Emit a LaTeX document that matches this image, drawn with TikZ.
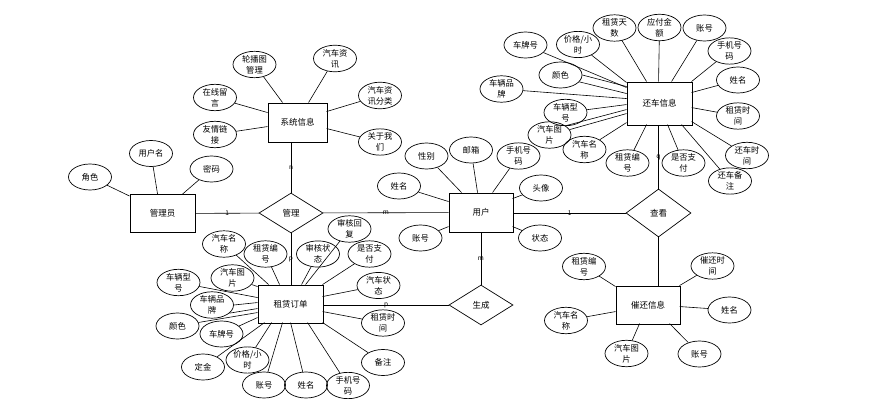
\documentclass[tikz,border=0pt]{standalone}
\usepackage{fontspec}
\setmainfont{Noto Sans CJK SC}
\usetikzlibrary{shapes.geometric,calc}

% link from an attribute (or one of its anchors) to a point on an entity's border,
% given as an offset from the entity's top-left corner
\newcommand\attrlink[4]{\draw[link] (#1) -- ($(#2.north west)+(#3,#4)$);}

\begin{document}
\begin{tikzpicture}[x=1pt,y=-1pt,
  ent/.style={draw, line width=0.9pt, minimum width=65pt, minimum height=38pt,
    inner sep=0pt, font=\fontsize{8.5}{10}\selectfont},
  rel/.style={draw, diamond, line width=0.7pt, minimum width=64pt, minimum height=40pt,
    inner sep=0pt, font=\fontsize{8.5}{10}\selectfont},
  attr/.style={draw, ellipse, line width=0.7pt, minimum width=43pt, minimum height=26pt,
    inner sep=0pt, align=center, font=\fontsize{8.3}{11}\selectfont},
  link/.style={line width=0.6pt},
  card/.style={font=\fontsize{6.5}{7}\selectfont, inner sep=0.5pt}]
\useasboundingbox (0,0) rectangle (870,412);

% entities
\node[ent] (admin) at (162.5,213.5) {管理员};
\node[ent, minimum width=59pt, minimum height=39pt] (sys) at (297.5,122.5) {系统信息};
\node[ent, minimum width=64pt, minimum height=39pt] (user) at (481,212.5) {用户};
\node[ent] (order) at (290.5,304) {租赁订单};
\node[ent, minimum height=43pt] (back) at (659.5,103.5) {还车信息};
\node[ent, minimum width=64pt] (urge) at (648,305) {催还信息};

% relationships
\node[rel] (manage) at (291,213) {管理};
\node[rel] (gen) at (481,305) {生成};
\node[rel, minimum width=65pt, minimum height=48pt] (view) at (658.5,213) {查看};

\draw[link] (admin) -- node[card]{1} (manage);
\draw[link] (manage) -- node[card]{m} (user);
\draw[link] (manage.north) -- node[card]{n} (manage.north |- sys.south);
\draw[link] (manage.south) -- node[card]{p} (manage.south |- order.north);
\draw[link] (user) -- node[card]{m} (gen);
\draw[link] (gen.west -| order.east) -- node[card]{p} (gen.west);
\draw[link] (user.east |- view.west) -- node[card]{1} (view.west);
\draw[link] (view.north) -- node[card]{q} (view.north |- back.south);
\draw[link] (view.south) -- (view.south |- urge.north);

% administrator
\node[attr] (a1) at (90,177) {角色};
\node[attr] (a2) at (151,153.5) {用户名};
\node[attr] (a3) at (211.5,169) {密码};
\attrlink{a1}{admin}{0}{2}
\attrlink{a2}{admin}{28}{0}
\attrlink{a3}{admin}{53}{0}

% system information
\node[attr] (s1) at (254.5,64.5) {轮播图\\管理};
\node[attr] (s2) at (335,58.5) {汽车资\\讯};
\node[attr] (s3) at (215,97.5) {在线留\\言};
\node[attr] (s4) at (215,134.5) {友情链\\接};
\node[attr] (s5) at (380,95.5) {汽车资\\讯分类};
\node[attr] (s6) at (380,142) {关于我\\们};
\attrlink{s1}{sys}{15}{0}
\attrlink{s2}{sys}{41}{0}
\attrlink{s3}{sys}{0}{10}
\attrlink{s4}{sys}{0}{24}
\attrlink{s5}{sys}{59}{9}
\attrlink{s6}{sys}{59}{26}

% user
\node[attr] (u1) at (426.5,156) {性别};
\node[attr] (u2) at (471,150) {邮箱};
\node[attr] (u3) at (518.5,156) {手机号\\码};
\node[attr] (u4) at (399,186) {姓名};
\node[attr] (u5) at (541,188) {头像};
\node[attr] (u6) at (420.5,238) {账号};
\node[attr] (u7) at (540,238) {状态};
\attrlink{u1}{user}{13}{0}
\attrlink{u2}{user}{29}{0}
\attrlink{u3}{user}{44}{0}
\attrlink{u4}{user}{0}{9}
\attrlink{u5}{user}{64}{6}
\attrlink{u6}{user}{0}{34}
\attrlink{u7}{user}{64}{34}

% rental order
\node[attr] (o1) at (224,244) {汽车名\\称};
\node[attr] (o2) at (265.5,254) {租赁编\\号};
\node[attr] (o3) at (318,254) {审核状\\态};
\node[attr] (o4) at (349.5,229) {审核回\\复};
\node[attr] (o5) at (369.5,254) {是否支\\付};
\node[attr] (o6) at (232.5,278) {汽车图\\片};
\node[attr] (o7) at (178.5,282.5) {车辆型\\号};
\node[attr] (o8) at (212,305) {车辆品\\牌};
\node[attr] (o9) at (177.5,326) {颜色};
\node[attr] (o10) at (221.5,334) {车牌号};
\node[attr] (o11) at (378.5,285.5) {汽车状\\态};
\node[attr] (o12) at (383,323) {租赁时\\间};
\node[attr] (o13) at (203,367) {定金};
\node[attr] (o14) at (247.5,360) {价格/小\\时};
\node[attr] (o15) at (264,385) {账号};
\node[attr] (o16) at (306,385) {姓名};
\node[attr] (o17) at (348,385.5) {手机号\\码};
\node[attr] (o18) at (383,362.5) {备注};
\attrlink{o1}{order}{11}{0}
\attrlink{o2}{order}{22}{0}
\attrlink{o3}{order}{44}{0}
\attrlink{o4}{order}{48}{0}
\attrlink{o5}{order}{65}{0}
\attrlink{o6}{order}{0}{2}
\attrlink{o7}{order}{0}{13}
\attrlink{o8.east}{order}{0}{18}
\attrlink{o8.-25}{order}{0}{24}
\attrlink{o9}{order}{0}{28}
\attrlink{o10}{order}{0}{33}
\attrlink{o11}{order}{65}{12}
\attrlink{o12}{order}{65}{27}
\attrlink{o13}{order}{7}{38}
\attrlink{o14}{order}{14}{38}
\attrlink{o15}{order}{25}{38}
\attrlink{o16}{order}{33}{38}
\attrlink{o17}{order}{50}{38}
\attrlink{o18}{order}{65}{38}

% return record
\node[attr] (b1) at (614.5,28) {租赁天\\数};
\node[attr] (b2) at (659.5,27.5) {应付金\\额};
\node[attr] (b3) at (704.5,28) {账号};
\node[attr] (b4) at (578,44.5) {价格/小\\时};
\node[attr] (b5) at (525.5,45) {车牌号};
\node[attr] (b6) at (560.5,75) {颜色};
\node[attr] (b7) at (501.5,89) {车辆品\\牌};
\node[attr] (b8) at (565.5,112.5) {车辆型\\号};
\node[attr] (b9) at (549.5,135) {汽车图\\片};
\node[attr] (b10) at (584.5,149.5) {汽车名\\称};
\node[attr] (b11) at (627.5,163) {租赁编\\号};
\node[attr] (b12) at (683.5,163) {是否支\\付};
\node[attr] (b13) at (730,181) {还车备\\注};
\node[attr] (b14) at (729.5,51) {手机号\\码};
\node[attr] (b15) at (738,80) {姓名};
\node[attr] (b16) at (738,116) {租赁时\\间};
\node[attr] (b17) at (747,155.5) {还车时\\间};
\attrlink{b1}{back}{20}{0}
\attrlink{b2}{back}{32}{0}
\attrlink{b3}{back}{45}{0}
\attrlink{b4}{back}{0}{1}
\attrlink{b5}{back}{0}{6}
\attrlink{b6.east}{back}{0}{5}
\attrlink{b6.-20}{back}{0}{12}
\attrlink{b7}{back}{0}{17}
\attrlink{b8}{back}{0}{23}
\attrlink{b9.30}{back}{0}{28}
\attrlink{b9.15}{back}{0}{32}
\attrlink{b10}{back}{0}{41}
\attrlink{b11}{back}{20}{43}
\attrlink{b12}{back}{41}{43}
\attrlink{b13}{back}{55}{43}
\attrlink{b14}{back}{65}{0}
\attrlink{b15}{back}{65}{11}
\attrlink{b16}{back}{65}{26}
\attrlink{b17}{back}{65}{40}

% reminder record
\node[attr] (c1) at (584,266.5) {租赁编\\号};
\node[attr] (c2) at (712.5,266) {催还时\\间};
\node[attr] (c3) at (729.5,310) {姓名};
\node[attr] (c4) at (566,320.5) {汽车名\\称};
\node[attr] (c5) at (626.5,353.5) {汽车图\\片};
\node[attr] (c6) at (699.5,354) {账号};
\attrlink{c1}{urge}{0}{1}
\attrlink{c2}{urge}{64}{0}
\attrlink{c3}{urge}{64}{21}
\attrlink{c4}{urge}{0}{26}
\attrlink{c5}{urge}{24}{38}
\attrlink{c6}{urge}{54}{38}
\end{tikzpicture}
\end{document}
